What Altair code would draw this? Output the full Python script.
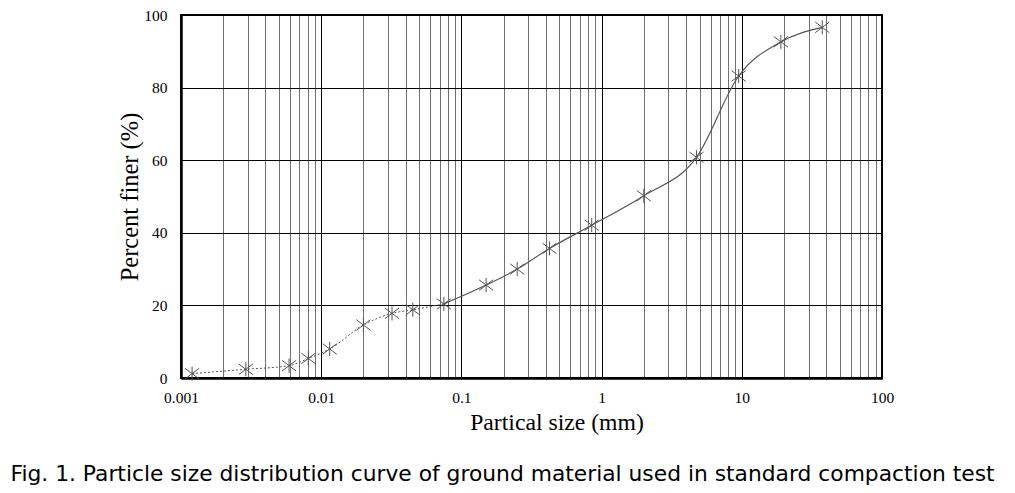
import altair as alt
import pandas as pd

# Data
size_mm = [0.0012, 0.0029, 0.0059, 0.0081, 0.0115, 0.020, 0.032, 0.045, 0.075,
           0.15, 0.25, 0.425, 0.85, 2.0, 4.75, 9.5, 19.0, 37.5]
percent_finer = [1.2, 2.4, 3.4, 5.4, 8.0, 14.6, 17.8, 18.8, 20.4,
                 25.6, 30.0, 35.7, 42.1, 50.2, 60.8, 83.2, 92.6, 96.6]
n_hydrometer = 9  # first points (to 0.075 mm) drawn dashed

df = pd.DataFrame({"size": size_mm, "pct": percent_finer})
df_dash = df.iloc[:n_hydrometer].copy()
df_solid = df.iloc[n_hydrometer - 1:].copy()

x_tick_values = []
for e in range(-3, 2):
    for m in range(1, 10):
        x_tick_values.append(round(m * 10 ** e, 6))
x_tick_values.append(100)

is_decade = "abs(log(datum.value)/LN10 - round(log(datum.value)/LN10)) < 1e-6"

serif = "Liberation Serif"

x_enc = alt.X("size:Q", scale=alt.Scale(type="log", domain=[0.001, 100], nice=False),
              axis=alt.Axis(values=x_tick_values, title="Partical size (mm)",
                            labelExpr=f"({is_decade}) ? toString(datum.value) : ''",
                            gridColor={"condition": {"test": is_decade, "value": "#000000"},
                                       "value": "#707070"},
                            gridOpacity=1, gridWidth=1, ticks=False,
                            labelPadding=12, titlePadding=5, labelFlush=False,
                            labelOverlap=False, titleFontSize=23.7,
                            titleX=375.5, titleAlign="center"))
y_enc = alt.Y("pct:Q", scale=alt.Scale(domain=[0, 100], nice=False),
              axis=alt.Axis(values=[0, 20, 40, 60, 80, 100], title="Percent finer (%)",
                            gridColor="#000000", gridOpacity=1, ticks=False,
                            labelPadding=14, titlePadding=1, titleFontSize=24.5))

line_dash = alt.Chart(df_dash).mark_line(
    color="#555555", strokeWidth=1, strokeDash=[2, 2], interpolate="monotone"
).encode(x=x_enc, y=y_enc)

line_solid = alt.Chart(df_solid).mark_line(
    color="#555555", strokeWidth=1.2, interpolate="monotone"
).encode(x=x_enc, y=y_enc)

asterisk = "M-1,-0.75L1,0.75M-1,0.75L1,-0.75M0,-1L0,1"
points = alt.Chart(df).mark_point(
    shape=asterisk, size=200, filled=False, stroke="#555555", strokeWidth=1, opacity=1
).encode(x=x_enc, y=y_enc)

chart = alt.layer(line_dash, line_solid, points).properties(
    width=701, height=363,
    autosize=alt.AutoSizeParams(type="none"),
    padding={"left": 173, "top": 7, "right": 120, "bottom": 110},
    title=alt.TitleParams(
        "Fig. 1. Particle size distribution curve of ground material used in standard compaction test",
        orient="bottom", anchor="middle", dx=-29, offset=30,
        font="DejaVu Sans", fontSize=21.8, fontWeight="normal", color="#000000"),
).configure_view(
    stroke="#000000", strokeWidth=2
).configure_axis(
    labelFont=serif, labelFontSize=15.5, labelColor="#000000",
    titleFont=serif, titleFontWeight="normal", titleColor="#000000",
    domainColor="#000000", domainWidth=2.5
)

chart.save("out.html", embed_options={"renderer": "svg", "actions": False})
